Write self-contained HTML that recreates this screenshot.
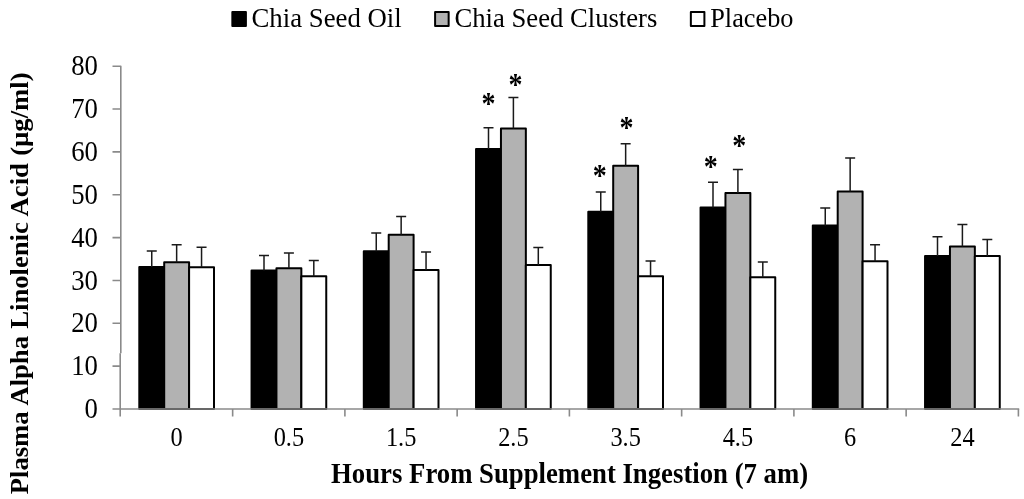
<!DOCTYPE html>
<html><head><meta charset="utf-8"><title>Plasma Alpha Linolenic Acid</title>
<style>html,body{margin:0;padding:0;background:#fff}svg{display:block}text{font-family:"Liberation Serif",serif;fill:#000}</style></head><body>
<svg width="1024" height="499" viewBox="0 0 1024 499">
<rect width="1024" height="499" fill="#fff"/>
<rect x="139.30" y="266.90" width="24.90" height="142.10" fill="#000" stroke="#000" stroke-width="2.0" stroke-linejoin="round"/>
<rect x="164.20" y="262.25" width="24.90" height="146.75" fill="#b2b2b2" stroke="#000" stroke-width="2.0" stroke-linejoin="round"/>
<rect x="189.10" y="267.25" width="24.90" height="141.75" fill="#fff" stroke="#000" stroke-width="2.0" stroke-linejoin="round"/>
<path d="M151.75 266.90V250.90M146.75 250.90H156.75" stroke="#1a1a1a" stroke-width="1.5" fill="none"/>
<path d="M176.65 262.25V244.75M171.65 244.75H181.65" stroke="#1a1a1a" stroke-width="1.5" fill="none"/>
<path d="M201.55 267.25V247.25M196.55 247.25H206.55" stroke="#1a1a1a" stroke-width="1.5" fill="none"/>
<rect x="251.55" y="270.40" width="24.90" height="138.60" fill="#000" stroke="#000" stroke-width="2.0" stroke-linejoin="round"/>
<rect x="276.45" y="268.20" width="24.90" height="140.80" fill="#b2b2b2" stroke="#000" stroke-width="2.0" stroke-linejoin="round"/>
<rect x="301.35" y="276.30" width="24.90" height="132.70" fill="#fff" stroke="#000" stroke-width="2.0" stroke-linejoin="round"/>
<path d="M264.00 270.40V255.40M259.00 255.40H269.00" stroke="#1a1a1a" stroke-width="1.5" fill="none"/>
<path d="M288.90 268.20V253.00M283.90 253.00H293.90" stroke="#1a1a1a" stroke-width="1.5" fill="none"/>
<path d="M313.80 276.30V260.50M308.80 260.50H318.80" stroke="#1a1a1a" stroke-width="1.5" fill="none"/>
<rect x="363.80" y="251.25" width="24.90" height="157.75" fill="#000" stroke="#000" stroke-width="2.0" stroke-linejoin="round"/>
<rect x="388.70" y="234.75" width="24.90" height="174.25" fill="#b2b2b2" stroke="#000" stroke-width="2.0" stroke-linejoin="round"/>
<rect x="413.60" y="270.10" width="24.90" height="138.90" fill="#fff" stroke="#000" stroke-width="2.0" stroke-linejoin="round"/>
<path d="M376.25 251.25V232.90M371.25 232.90H381.25" stroke="#1a1a1a" stroke-width="1.5" fill="none"/>
<path d="M401.15 234.75V216.40M396.15 216.40H406.15" stroke="#1a1a1a" stroke-width="1.5" fill="none"/>
<path d="M426.05 270.10V252.00M421.05 252.00H431.05" stroke="#1a1a1a" stroke-width="1.5" fill="none"/>
<rect x="476.05" y="149.00" width="24.90" height="260.00" fill="#000" stroke="#000" stroke-width="2.0" stroke-linejoin="round"/>
<rect x="500.95" y="128.50" width="24.90" height="280.50" fill="#b2b2b2" stroke="#000" stroke-width="2.0" stroke-linejoin="round"/>
<rect x="525.85" y="265.00" width="24.90" height="144.00" fill="#fff" stroke="#000" stroke-width="2.0" stroke-linejoin="round"/>
<path d="M488.50 149.00V127.75M483.50 127.75H493.50" stroke="#1a1a1a" stroke-width="1.5" fill="none"/>
<path d="M513.40 128.50V97.40M508.40 97.40H518.40" stroke="#1a1a1a" stroke-width="1.5" fill="none"/>
<path d="M538.30 265.00V247.40M533.30 247.40H543.30" stroke="#1a1a1a" stroke-width="1.5" fill="none"/>
<rect x="588.30" y="211.70" width="24.90" height="197.30" fill="#000" stroke="#000" stroke-width="2.0" stroke-linejoin="round"/>
<rect x="613.20" y="165.70" width="24.90" height="243.30" fill="#b2b2b2" stroke="#000" stroke-width="2.0" stroke-linejoin="round"/>
<rect x="638.10" y="276.25" width="24.90" height="132.75" fill="#fff" stroke="#000" stroke-width="2.0" stroke-linejoin="round"/>
<path d="M600.75 211.70V192.10M595.75 192.10H605.75" stroke="#1a1a1a" stroke-width="1.5" fill="none"/>
<path d="M625.65 165.70V143.80M620.65 143.80H630.65" stroke="#1a1a1a" stroke-width="1.5" fill="none"/>
<path d="M650.55 276.25V261.00M645.55 261.00H655.55" stroke="#1a1a1a" stroke-width="1.5" fill="none"/>
<rect x="700.55" y="207.60" width="24.90" height="201.40" fill="#000" stroke="#000" stroke-width="2.0" stroke-linejoin="round"/>
<rect x="725.45" y="193.10" width="24.90" height="215.90" fill="#b2b2b2" stroke="#000" stroke-width="2.0" stroke-linejoin="round"/>
<rect x="750.35" y="277.25" width="24.90" height="131.75" fill="#fff" stroke="#000" stroke-width="2.0" stroke-linejoin="round"/>
<path d="M713.00 207.60V182.20M708.00 182.20H718.00" stroke="#1a1a1a" stroke-width="1.5" fill="none"/>
<path d="M737.90 193.10V169.50M732.90 169.50H742.90" stroke="#1a1a1a" stroke-width="1.5" fill="none"/>
<path d="M762.80 277.25V262.10M757.80 262.10H767.80" stroke="#1a1a1a" stroke-width="1.5" fill="none"/>
<rect x="812.80" y="225.60" width="24.90" height="183.40" fill="#000" stroke="#000" stroke-width="2.0" stroke-linejoin="round"/>
<rect x="837.70" y="191.50" width="24.90" height="217.50" fill="#b2b2b2" stroke="#000" stroke-width="2.0" stroke-linejoin="round"/>
<rect x="862.60" y="261.25" width="24.90" height="147.75" fill="#fff" stroke="#000" stroke-width="2.0" stroke-linejoin="round"/>
<path d="M825.25 225.60V208.00M820.25 208.00H830.25" stroke="#1a1a1a" stroke-width="1.5" fill="none"/>
<path d="M850.15 191.50V158.00M845.15 158.00H855.15" stroke="#1a1a1a" stroke-width="1.5" fill="none"/>
<path d="M875.05 261.25V244.75M870.05 244.75H880.05" stroke="#1a1a1a" stroke-width="1.5" fill="none"/>
<rect x="925.05" y="256.00" width="24.90" height="153.00" fill="#000" stroke="#000" stroke-width="2.0" stroke-linejoin="round"/>
<rect x="949.95" y="246.40" width="24.90" height="162.60" fill="#b2b2b2" stroke="#000" stroke-width="2.0" stroke-linejoin="round"/>
<rect x="974.85" y="256.00" width="24.90" height="153.00" fill="#fff" stroke="#000" stroke-width="2.0" stroke-linejoin="round"/>
<path d="M937.50 256.00V236.75M932.50 236.75H942.50" stroke="#1a1a1a" stroke-width="1.5" fill="none"/>
<path d="M962.40 246.40V224.50M957.40 224.50H967.40" stroke="#1a1a1a" stroke-width="1.5" fill="none"/>
<path d="M987.30 256.00V239.60M982.30 239.60H992.30" stroke="#1a1a1a" stroke-width="1.5" fill="none"/>
<path d="M112.5 66.2H120.8V353.2" stroke="#8a8a8a" stroke-width="1.6" fill="none" stroke-linejoin="round"/>
<path d="M120.2 353.2V416.4M112.5 409H1019.2" stroke="#8a8a8a" stroke-width="1.6" fill="none"/>
<path d="M112.5 109.05H120.5M112.5 151.90H120.5M112.5 194.75H120.5M112.5 237.60H120.5M112.5 280.45H120.5M112.5 323.30H120.5M112.5 366.15H120.5M232.65 409V416.4M344.90 409V416.4M457.15 409V416.4M569.40 409V416.4M681.65 409V416.4M793.90 409V416.4M906.15 409V416.4M1018.40 409V416.4" stroke="#8a8a8a" stroke-width="1.6" fill="none"/>
<text transform="translate(97.9 75.30) scale(0.925 1)" font-size="28.9" text-anchor="end">80</text>
<text transform="translate(97.9 118.15) scale(0.925 1)" font-size="28.9" text-anchor="end">70</text>
<text transform="translate(97.9 161.00) scale(0.925 1)" font-size="28.9" text-anchor="end">60</text>
<text transform="translate(97.9 203.85) scale(0.925 1)" font-size="28.9" text-anchor="end">50</text>
<text transform="translate(97.9 246.70) scale(0.925 1)" font-size="28.9" text-anchor="end">40</text>
<text transform="translate(97.9 289.55) scale(0.925 1)" font-size="28.9" text-anchor="end">30</text>
<text transform="translate(97.9 332.40) scale(0.925 1)" font-size="28.9" text-anchor="end">20</text>
<text transform="translate(97.9 375.25) scale(0.925 1)" font-size="28.9" text-anchor="end">10</text>
<text transform="translate(97.9 418.10) scale(0.925 1)" font-size="28.9" text-anchor="end">0</text>
<text transform="translate(176.65 445.6) scale(0.92 1)" font-size="26.5" text-anchor="middle">0</text>
<text transform="translate(288.90 445.6) scale(0.92 1)" font-size="26.5" text-anchor="middle">0.5</text>
<text transform="translate(401.15 445.6) scale(0.92 1)" font-size="26.5" text-anchor="middle">1.5</text>
<text transform="translate(513.40 445.6) scale(0.92 1)" font-size="26.5" text-anchor="middle">2.5</text>
<text transform="translate(625.65 445.6) scale(0.92 1)" font-size="26.5" text-anchor="middle">3.5</text>
<text transform="translate(737.90 445.6) scale(0.92 1)" font-size="26.5" text-anchor="middle">4.5</text>
<text transform="translate(850.15 445.6) scale(0.92 1)" font-size="26.5" text-anchor="middle">6</text>
<text transform="translate(962.40 445.6) scale(0.92 1)" font-size="26.5" text-anchor="middle">24</text>
<text transform="translate(569.6 482.9) scale(0.9417 1)" font-size="28.4" font-weight="bold" text-anchor="middle">Hours From Supplement Ingestion (7 am)</text>
<text transform="translate(27.5 283.35) rotate(-90) scale(1.066 1)" word-spacing="0.56" font-size="25" font-weight="bold" text-anchor="middle">Plasma Alpha Linolenic Acid (µg/ml)</text>
<rect x="232.35" y="11.9" width="13.55" height="14" fill="#000" stroke="#000" stroke-width="2" stroke-linejoin="round"/>
<text transform="translate(251.5 27) scale(1.0144 1)" font-size="26.4">Chia Seed Oil</text>
<rect x="435.1" y="11.9" width="13.55" height="14" fill="#b2b2b2" stroke="#000" stroke-width="2" stroke-linejoin="round"/>
<text transform="translate(454.5 27) scale(1.0105 1)" font-size="26.4">Chia Seed Clusters</text>
<rect x="690.85" y="11.9" width="13.55" height="14" fill="#fff" stroke="#000" stroke-width="2" stroke-linejoin="round"/>
<text transform="translate(710.2 27) scale(0.9967 1)" font-size="26.4">Placebo</text>
<text transform="translate(488.5 99.35) scale(1 1.125)" y="13.23" font-size="28" font-weight="bold" text-anchor="middle">*</text>
<text transform="translate(515.5 80.3) scale(1 1.125)" y="13.23" font-size="28" font-weight="bold" text-anchor="middle">*</text>
<text transform="translate(599.8 170.9) scale(1 1.125)" y="13.23" font-size="28" font-weight="bold" text-anchor="middle">*</text>
<text transform="translate(626.5 123.25) scale(1 1.125)" y="13.23" font-size="28" font-weight="bold" text-anchor="middle">*</text>
<text transform="translate(710.85 162.2) scale(1 1.125)" y="13.23" font-size="28" font-weight="bold" text-anchor="middle">*</text>
<text transform="translate(739.3 141.2) scale(1 1.125)" y="13.23" font-size="28" font-weight="bold" text-anchor="middle">*</text>
</svg></body></html>
